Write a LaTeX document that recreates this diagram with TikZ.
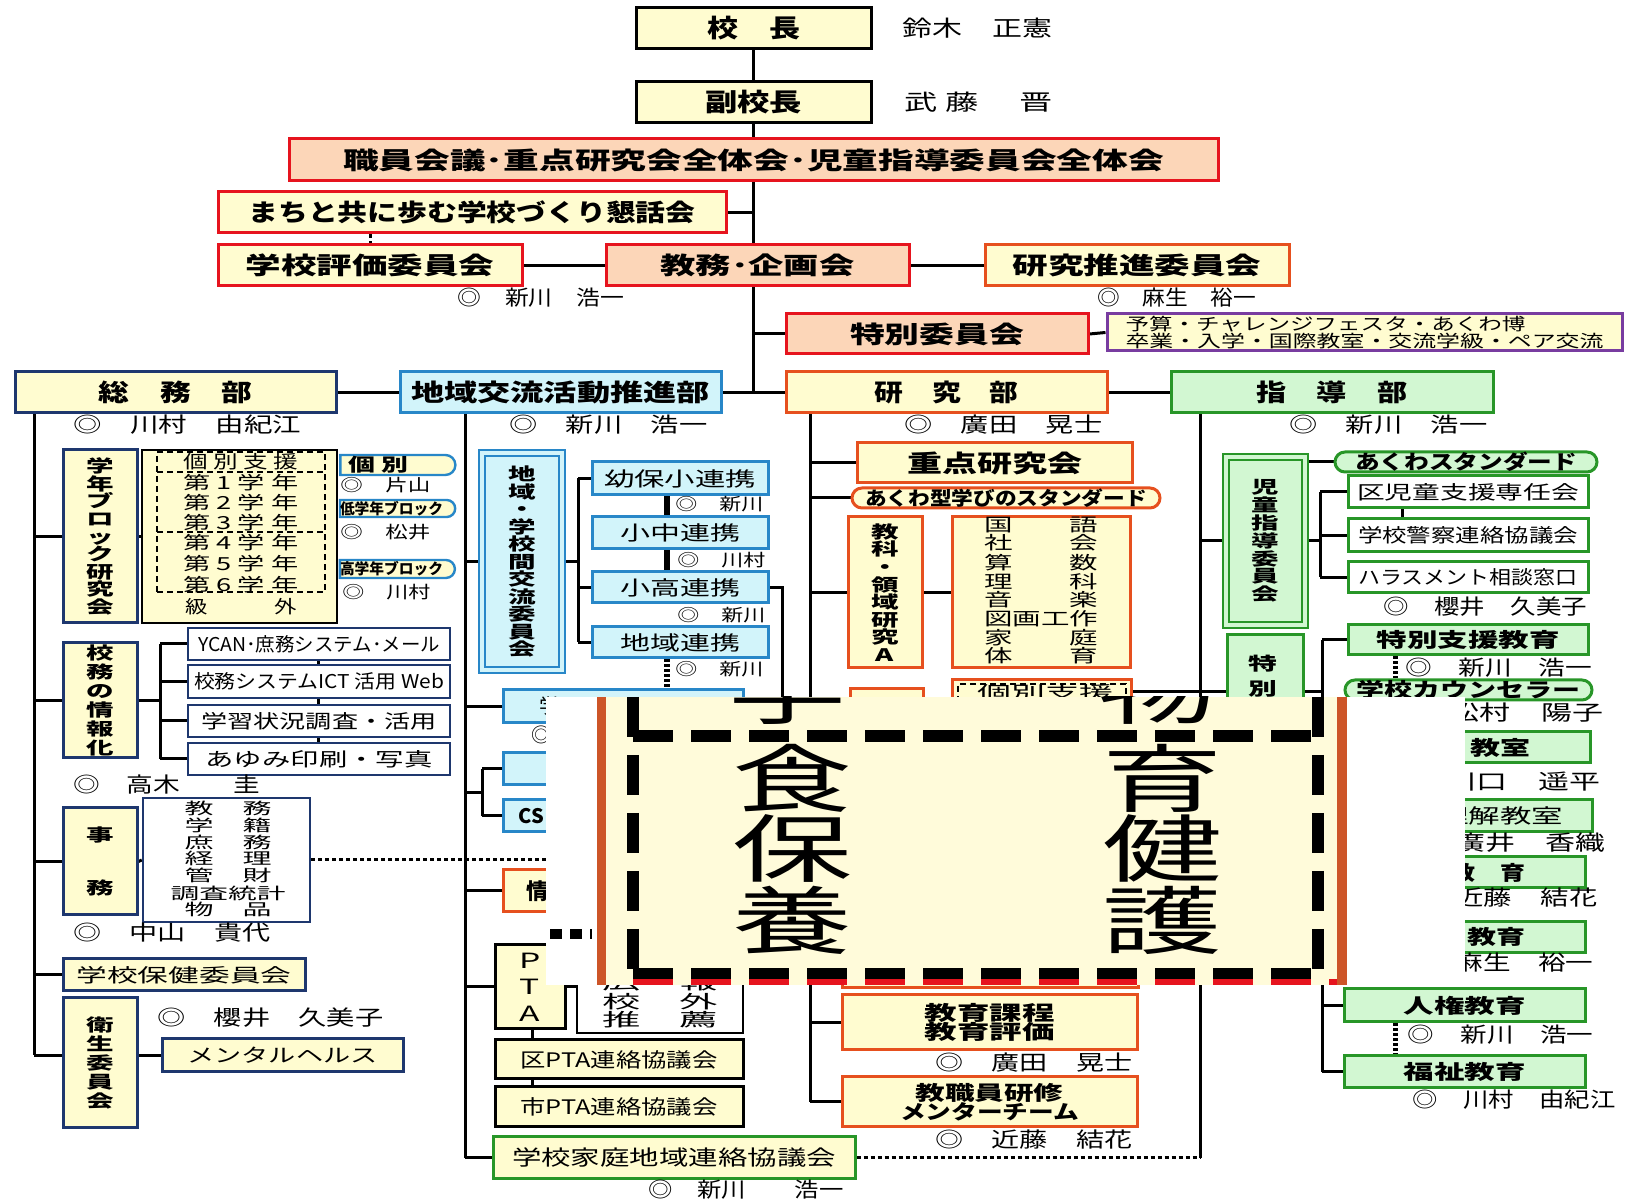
\documentclass[tikz,border=0pt]{standalone}
\usepackage{fontspec}
\usepackage{graphicx}
\setmainfont{Noto Sans CJK JP}
\newfontfamily\jpv{Noto Sans CJK JP}[FakeStretch=1.6]
\usetikzlibrary{shapes.misc}
\pgfdeclarelayer{bg}\pgfdeclarelayer{fg}\pgfsetlayers{bg,main,fg}
\newlength\px \setlength\px{0.5pt}
\newcommand\hw[2]{\resizebox{#1\px}{\height}{#2}}
\newcommand\fsz[1]{\fontsize{#1}{#1}\selectfont}
% \mkbox{style}{name}{x1}{y1}{x2}{y2}{text}
\newcommand\mkbox[7]{\node[#1, minimum width={(#5-#3)*0.5pt}, minimum height={(#6-#4)*0.5pt}] (#2) at ({(#3+#5)/2},{(#4+#6)/2}) {#7};}
\definecolor{ly}{RGB}{255,252,208}
\definecolor{peach}{RGB}{252,214,184}
\definecolor{redb}{RGB}{230,20,30}
\definecolor{orb}{RGB}{230,80,30}
\definecolor{navy}{RGB}{30,55,110}
\definecolor{blu}{RGB}{40,135,200}
\definecolor{cyf}{RGB}{210,244,250}
\definecolor{grn}{RGB}{40,150,40}
\definecolor{lgr}{RGB}{210,247,210}
\definecolor{purp}{RGB}{120,60,160}
\definecolor{rust}{RGB}{205,85,40}
\definecolor{cream}{RGB}{255,251,218}
\tikzset{
  bxB/.style={draw, line width=1.5pt, inner sep=0pt, align=center},
  bxY/.style={bxB, fill=ly, draw=black},
  bxR/.style={bxB, fill=ly, draw=redb},
  bxP/.style={bxB, fill=peach, draw=redb},
  bxO/.style={bxB, fill=ly, draw=orb},
  bxN/.style={bxB, fill=ly, draw=navy},
  bxNW/.style={bxB, fill=white, draw=navy, line width=1.2pt},
  bxC/.style={bxB, fill=cyf, draw=blu},
  bxG/.style={bxB, fill=lgr, draw=grn},
  bxGW/.style={bxB, fill=white, draw=grn},
  bxK/.style={bxB, fill=white, draw=black, line width=1pt},
  dshb/.style={draw, dash pattern=on 3pt off 2pt, line width=0.9pt, inner sep=0pt},
  ftT/.style={font={\fsz{12}\bfseries}},
  ftV/.style={font={\jpv\bfseries\fsz{8.6}\baselineskip=#1pt\lineskiplimit=-20pt}},
  tNm/.style={inner sep=0pt, anchor=west, font={\fsz{10.5}}},
  tNmS/.style={inner sep=0pt, anchor=west, font={\fsz{8.5}}},
  tG/.style={inner sep=0pt, font={\fsz{9}}},
  tG8/.style={inner sep=0pt, font={\fsz{8}}},
  bigc/.style={inner sep=0pt, font={\fsz{37}}},
  cn/.style={line width=1.5pt, black},
  dotc/.style={line width=1.5pt, dash pattern=on 2pt off 1.5pt},
  ovd/.style={line width=6pt, dash pattern=on 20pt off 9pt},
}
\begin{document}
\begin{tikzpicture}[x=0.5pt,y=-0.5pt]
\useasboundingbox (0,0) rectangle (1630,1202);
% ---------- top ----------
\mkbox{bxY,font={\fsz{12.5}\bfseries}}{kocho}{636}{8}{871}{49}{\hw{93}{校　長}}
\node[tNm,font=\fsz{11}] (nKocho) at (902,28) {\hw{150}{鈴木　正憲}};
\mkbox{bxY,font={\fsz{12.5}\bfseries}}{fuku}{636}{82}{871}{123}{\hw{97}{副校長}}
\node[tNm,font=\fsz{11}] (nFuku) at (904,102) {\hw{148}{武 藤　 晋}};
\mkbox{bxP,ftT}{shokuin}{289}{139}{1218}{181}{\hw{821}{職員会議･重点研究会全体会･児童指導委員会全体会}}
\mkbox{bxR,ftT}{machi}{218}{192}{726}{233}{\hw{447}{まちと共に歩む学校づくり懇話会}}
\mkbox{bxR,ftT}{hyoka}{218}{245}{522}{286}{\hw{249}{学校評価委員会}}
\mkbox{bxP,ftT}{kyomu}{606}{245}{909}{286}{\hw{194}{教務･企画会}}
\mkbox{bxO,ftT}{suishin}{985}{245}{1289}{286}{\hw{249}{研究推進委員会}}
\node[tNm] (nKyomu) at (457,298) {\hw{167}{◎　新川　浩一}};
\node[tNm] (nSuishin) at (1097,298) {\hw{159}{◎　麻生　裕一}};
\mkbox{bxP,ftT}{tokui}{786}{314}{1088}{354}{\hw{174}{特別委員会}}
\mkbox{bxY,draw=purp,align=left,font={\fsz{8.5}\lineskiplimit=-20pt}}{purple}{1107}{314}{1622}{351}{\hw{400}{予算・チャレンジフェスタ・あくわ博}\\\hw{478}{卒業・入学・国際教室・交流学級・ペア交流}}
% ---------- level 2 ----------
\mkbox{bxN,ftT}{somu}{15}{372}{336}{413}{\hw{154}{総　務　部}}
\mkbox{bxC,ftT}{chiiki}{400}{372}{721}{413}{\hw{299}{地域交流活動推進部}}
\mkbox{bxO,ftT}{kenkyu}{786}{372}{1107}{413}{\hw{144}{研　究　部}}
\mkbox{bxG,ftT}{shido}{1171}{372}{1493}{413}{\hw{151}{指　導　部}}
\node[tNm] (nSomu) at (73,425) {\hw{228}{◎　川村　由紀江}};
\node[tNm] (nChiiki) at (509,425) {\hw{198}{◎　新川　浩一}};
\node[tNm] (nKenkyu) at (904,425) {\hw{198}{◎　廣田　晃士}};
\node[tNm] (nShido) at (1289,425) {\hw{198}{◎　新川　浩一}};
% ---------- somu column ----------
\mkbox{bxN,ftV=8.8}{gakunen}{63}{450}{137}{623}{学\\年\\ブ\\ロ\\ッ\\ク\\研\\究\\会}
\mkbox{bxK,fill=ly}{grade}{142}{450}{337}{623}{}
\mkbox{dshb}{kb1}{157}{452}{325}{472}{}
\mkbox{dshb}{kb2}{157}{472}{325}{532}{}
\mkbox{dshb}{kb3}{157}{532}{325}{592}{}
\node[tG] (g0) at (241,462) {\hw{115}{個 別 支 援}};
\node[tG] (g1) at (241,483) {\hw{115}{第 1 学 年}};
\node[tG] (g2) at (241,503) {\hw{115}{第 2 学 年}};
\node[tG] (g3) at (241,523) {\hw{115}{第 3 学 年}};
\node[tG] (g4) at (241,543) {\hw{115}{第 4 学 年}};
\node[tG] (g5) at (241,564) {\hw{115}{第 5 学 年}};
\node[tG] (g6) at (241,585) {\hw{115}{第 6 学 年}};
\node[tG] (g7) at (241,607) {\hw{112}{級　　　外}};
\mkbox{bxY,draw=blu,line width=1.2pt,rounded rectangle,rounded rectangle west arc=none,font={\fsz{9}\bfseries}}{lKo}{338}{455}{453}{475}{\hw{60}{個 別}\hspace{34\px}}
\node[tNmS] (nKa) at (340,485) {\hw{90}{◎　片山}};
\mkbox{bxY,draw=blu,line width=1.2pt,rounded rectangle,rounded rectangle west arc=none,font={\fsz{7.5}\bfseries}}{lTei}{338}{500}{453}{517}{\hw{103}{低学年ブロック}\hspace{8\px}}
\node[tNmS] (nMa) at (340,532) {\hw{90}{◎　松井}};
\mkbox{bxY,draw=blu,line width=1.2pt,rounded rectangle,rounded rectangle west arc=none,font={\fsz{7.5}\bfseries}}{lKou}{338}{560}{453}{578}{\hw{103}{高学年ブロック}\hspace{8\px}}
\node[tNmS] (nKw) at (342,592) {\hw{88}{◎　川村}};
\mkbox{bxN,ftV=9.5}{joho}{63}{643}{137}{758}{校\\務\\の\\情\\報\\化}
\mkbox{bxNW,font=\fsz{9.5}}{ycan}{188}{628}{450}{660}{\hw{242}{YCAN･庶務システム･メール}}
\mkbox{bxNW,font=\fsz{9.5}}{ict}{188}{665}{450}{698}{\hw{250}{校務システムICT 活用 Web}}
\mkbox{bxNW,font=\fsz{9.5}}{gakushu}{188}{705}{450}{737}{\hw{235}{学習状況調査・活用}}
\mkbox{bxNW,font=\fsz{9.5}}{ayumi}{188}{743}{450}{775}{\hw{227}{あゆみ印刷・写真}}
\node[tNm] (nTa) at (73,785) {\hw{187}{◎　高木　　圭}};
\mkbox{bxN,ftV=26.5}{jimu}{63}{808}{137}{915}{事\\務}
\mkbox{bxNW}{jimuL}{143}{798}{310}{922}{}
\node[tG8] (j1) at (228,808) {\hw{87}{教　務}};
\node[tG8] (j2) at (228,825) {\hw{87}{学　籍}};
\node[tG8] (j3) at (228,842) {\hw{87}{庶　務}};
\node[tG8] (j4) at (228,858) {\hw{87}{経　理}};
\node[tG8] (j5) at (228,875) {\hw{87}{管　財}};
\node[tG8] (j6) at (228,893) {\hw{115}{調査統計}};
\node[tG8] (j7) at (228,909) {\hw{87}{物　品}};
\node[tNm] (nNa) at (73,933) {\hw{197}{◎　中山　貴代}};
\mkbox{bxN,font=\fsz{9.5}}{hoken}{63}{959}{305}{991}{\hw{215}{学校保健委員会}}
\mkbox{bxN,ftV=9.4}{eisei}{63}{998}{137}{1128}{衛\\生\\委\\員\\会}
\node[tNm] (nSa) at (157,1018) {\hw{226}{◎　櫻井　久美子}};
\mkbox{bxN,font=\fsz{9.5}}{mental}{162}{1039}{403}{1072}{\hw{190}{メンタルヘルス}}
\coordinate (jimuDot) at (560,860);
% ---------- chiiki column ----------
\mkbox{bxC,double=cyf,double distance=2pt,line width=1.1pt,ftV=8.75}{koryu}{482}{453}{562}{670}{地\\域\\・\\学\\校\\間\\交\\流\\委\\員\\会}
\mkbox{bxC,font=\fsz{10}}{youho}{592}{462}{768}{495}{\hw{152}{幼保小連携}}
\mkbox{bxC,font=\fsz{10}}{shochu}{592}{517}{768}{549}{\hw{120}{小中連携}}
\mkbox{bxC,font=\fsz{10}}{kodaka}{592}{572}{768}{603}{\hw{120}{小高連携}}
\mkbox{bxC,font=\fsz{10}}{chiikiR}{592}{627}{768}{658}{\hw{120}{地域連携}}
\node[tNmS] (nY) at (675,504) {\hw{88}{◎　新川}};
\node[tNmS] (nS) at (677,560) {\hw{88}{◎　川村}};
\node[tNmS] (nK) at (677,615) {\hw{88}{◎　新川}};
\node[tNmS] (nC) at (675,669) {\hw{88}{◎　新川}};
\mkbox{bxC}{cyanA}{503}{690}{743}{723}{}
\node[inner sep=0pt,font=\fsz{10}] (cyAt) at (549,706) {学};
\node[inner sep=0pt,font=\fsz{10}] (cyAn) at (541,735) {◎};
\mkbox{bxC}{cyanB}{503}{753}{743}{785}{}
\mkbox{bxC}{cyanC}{503}{800}{743}{832}{}
\node[inner sep=0pt,anchor=west,font={\fsz{10}\bfseries}] (cyCt) at (518,816) {CS};
\mkbox{bxO}{jyoO}{503}{870}{743}{912}{}
\node[inner sep=0pt,font={\fsz{11}\bfseries}] (jyoT) at (537,891) {情};
\mkbox{bxY,font={\jpv\fsz{10.5}\baselineskip=13.3pt\lineskiplimit=-20pt}}{pta}{495}{945}{565}{1029}{P\\T\\A}
\mkbox{bxK}{ptaL}{577}{930}{743}{1033}{}
\node[tG] (p1) at (660,983) {\hw{115}{広　報}};
\node[tG] (p2) at (660,1002) {\hw{115}{校　外}};
\node[tG] (p3) at (660,1020) {\hw{115}{推　薦}};
\mkbox{bxY,font=\fsz{10}}{kuPTA}{495}{1040}{743}{1079}{\hw{197}{区PTA連絡協議会}}
\mkbox{bxY,font=\fsz{10}}{shiPTA}{495}{1087}{743}{1127}{\hw{197}{市PTA連絡協議会}}
\mkbox{bxY,draw=grn,font=\fsz{10.5}}{renraku}{493}{1137}{855}{1179}{\hw{324}{学校家庭地域連絡協議会}}
\node[tNm] (nRe) at (648,1190) {\hw{195}{◎　新川　　浩一}};
% ---------- kenkyu column ----------
\mkbox{bxO,ftT}{juten}{857}{443}{1132}{483}{\hw{175}{重点研究会}}
\mkbox{bxO,rounded rectangle,font={\fsz{9.5}\bfseries}}{akuwagata}{852}{488}{1160}{508}{\hw{282}{あくわ型学びのスタンダード}}
\mkbox{bxO,ftV=8.8}{kyoka}{848}{517}{922}{668}{教\\科\\・\\領\\域\\研\\究\\A}
\mkbox{bxO}{subj}{952}{517}{1130}{668}{}
\node[tG] (s1) at (1041,525) {\hw{114}{国　　語}};
\node[tG] (s2) at (1041,543) {\hw{114}{社　　会}};
\node[tG] (s3) at (1041,563) {\hw{114}{算　　数}};
\node[tG] (s4) at (1041,582) {\hw{114}{理　　科}};
\node[tG] (s5) at (1041,600) {\hw{114}{音　　楽}};
\node[tG] (s6) at (1041,619) {\hw{114}{図画工作}};
\node[tG] (s7) at (1041,638) {\hw{114}{家　　庭}};
\node[tG] (s8) at (1041,656) {\hw{114}{体　　育}};
\mkbox{bxO}{yoBox}{850}{689}{923}{800}{}
\mkbox{bxO}{hidK}{952}{680}{1131}{800}{}
\mkbox{dshb}{hidKd}{958}{684}{1126}{706}{}
\node[tG] (hidKt) at (1045,693) {\hw{136}{個別支援}};
\mkbox{bxO}{hidB}{842}{880}{1138}{988}{}
\mkbox{bxO,font={\fsz{10}\bfseries\baselineskip=9.5pt\lineskiplimit=-20pt}}{katei}{842}{995}{1137}{1050}{\hw{130}{教育課程}\\\hw{130}{教育評価}}
\node[tNm] (nHi2) at (935,1063) {\hw{197}{◎　廣田　晃士}};
\mkbox{bxO,font={\fsz{10}\bfseries\baselineskip=9.5pt\lineskiplimit=-20pt}}{kenshu}{842}{1077}{1137}{1127}{\hw{148}{教職員研修}\\\hw{179}{メンターチーム}}
\node[tNm] (nKo2) at (935,1140) {\hw{197}{◎　近藤　結花}};
% ---------- shido column ----------
\mkbox{bxG,double=lgr,double distance=2pt,line width=1.1pt,ftV=8.9}{jido}{1226}{457}{1305}{625}{児\\童\\指\\導\\委\\員\\会}
\mkbox{bxG,rounded rectangle,font={\fsz{10}\bfseries}}{akuwaSt}{1335}{452}{1597}{472}{\hw{222}{あくわスタンダード}}
\mkbox{bxGW,font=\fsz{9.5}}{kuJido}{1348}{476}{1588}{508}{\hw{222}{区児童支援専任会}}
\mkbox{bxGW,font=\fsz{9.5}}{keisatsu}{1348}{519}{1588}{552}{\hw{220}{学校警察連絡協議会}}
\mkbox{bxGW,font=\fsz{9.5}}{harass}{1348}{562}{1588}{593}{\hw{219}{ハラスメント相談窓口}}
\node[tNm] (nSa2) at (1383,607) {\hw{204}{◎　櫻井　久美子}};
\mkbox{bxG}{tok2}{1227}{635}{1303}{900}{}
\node[inner sep=0pt,align=center,font={\jpv\bfseries\fsz{9}\baselineskip=12.5pt\lineskiplimit=-20pt}] (tok2t) at (1263,676) {特\\別};
\mkbox{bxG,font={\fsz{10}\bfseries}}{tokushien}{1348}{625}{1588}{655}{\hw{183}{特別支援教育}}
\node[tNm] (nSh3) at (1405,668) {\hw{187}{◎　新川　浩一}};
\mkbox{bxG,rounded rectangle,font={\fsz{10}\bfseries}}{counsel}{1345}{680}{1592}{700}{\hw{224}{学校カウンセラー}}
\node[tNm] (nMat) at (1448,713) {\hw{155}{松村　陽子}};
\mkbox{bxG}{rA}{1348}{732}{1590}{763}{}
\node[inner sep=0pt,anchor=west,font={\fsz{10}\bfseries}] (rAt) at (1470,748) {\hw{60}{教室}};
\node[tNm] (nKaw) at (1445,782) {\hw{155}{川口　遥平}};
\mkbox{bxG}{rB}{1348}{800}{1592}{832}{}
\node[inner sep=0pt,anchor=west,font={\fsz{10}}] (rBt) at (1437,816) {\hw{126}{理解教室}};
\node[tNm] (nHir) at (1455,843) {\hw{150}{廣井　香織}};
\mkbox{bxG}{rC}{1348}{857}{1585}{888}{}
\node[inner sep=0pt,anchor=west,font={\fsz{10}\bfseries}] (rCt) at (1450,873) {\hw{75}{教　育}};
\node[tNm] (nKon) at (1455,898) {\hw{142}{近藤　結花}};
\mkbox{bxG}{rD}{1348}{922}{1585}{953}{}
\node[inner sep=0pt,anchor=west,font={\fsz{10}\bfseries}] (rDt) at (1467,937) {\hw{58}{教育}};
\node[tNm] (nAso) at (1455,963) {\hw{138}{麻生　裕一}};
\mkbox{bxG,font={\fsz{10}\bfseries}}{jinken}{1344}{989}{1585}{1022}{\hw{122}{人権教育}}
\node[tNm] (nSh4) at (1407,1035) {\hw{186}{◎　新川　浩一}};
\mkbox{bxG,font={\fsz{10}\bfseries}}{fukushi}{1344}{1056}{1585}{1088}{\hw{122}{福祉教育}}
\node[tNm] (nKaw2) at (1412,1100) {\hw{203}{◎　川村　由紀江}};
% ---------- coordinates ----------
\coordinate (sX) at (34,413);
\coordinate (jbX) at (160,700);
\coordinate (ylX) at (318,0);
\coordinate (cX) at (465,413);
\coordinate (cbX) at (482,793);
\coordinate (kbX) at (578,0);
\coordinate (lkX) at (667,0);
\coordinate (kdX) at (782,900);
\coordinate (pX) at (532,0);
\coordinate (kX) at (810,413);
\coordinate (tkY) at (0,692);
\coordinate (shX) at (1200,413);
\coordinate (jbr) at (1320,0);
\coordinate (kjX) at (1402,0);
\coordinate (tbr) at (1322,0);
\coordinate (dmX) at (1395,0);
% ---------- connectors ----------
\begin{pgfonlayer}{bg}
\fill[white] (0,0) rectangle (1630,1202);
\draw[cn] (kocho.south) -- (kocho.south |- kenkyu.west);
\draw[cn] (somu.east) -- (shido.west);
\draw[cn] (machi.east) -- (machi.east -| kocho.south);
\draw[dotc] (hyoka.north |- machi.south) -- (hyoka.north);
\draw[cn] (hyoka.east) -- (kyomu.west);
\draw[cn] (kyomu.east) -- (suishin.west);
\draw[cn] (tokui.west -| kocho.south) -- (tokui.west);
\draw[cn] (tokui.east) -- (purple.west);
% somu
\draw[cn] (sX) -- (mental.west -| sX);
\foreach \n in {gakunen,joho,jimu,hoken,mental} \draw[cn] (\n.west -| sX) -- (\n.west);
\draw[cn] (gakunen.east) -- (grade.west);
\draw[cn] (jimu.east) -- (jimuL.west);
\draw[cn] (joho.east) -- (joho.east -| jbX);
\draw[cn] (ycan.west -| jbX) -- (ayumi.west -| jbX);
\foreach \n in {ycan,ict,gakushu,ayumi} \draw[cn] (\n.west -| jbX) -- (\n.west);
\draw[cn] (ycan.south -| ylX) -- (ict.north -| ylX);
\draw[cn] (ict.south -| ylX) -- (gakushu.north -| ylX);
\draw[cn] (gakushu.south -| ylX) -- (ayumi.north -| ylX);
\draw[dotc] (jimuL.east) -- (jimuDot);
% chiiki
\draw[cn] (cX) -- (renraku.west -| cX);
\foreach \n in {koryu,cyanA,jyoO,pta,renraku} \draw[cn] (\n.west -| cX) -- (\n.west);
\draw[cn] (cbX -| cX) -- (cbX);
\draw[cn] (cyanB.west -| cbX) -- (cyanC.west -| cbX);
\foreach \n in {cyanB,cyanC} \draw[cn] (\n.west -| cbX) -- (\n.west);
\draw[cn] (koryu.east) -- (koryu.east -| kbX);
\draw[cn] (youho.west -| kbX) -- (chiikiR.west -| kbX);
\foreach \n in {youho,kodaka,chiikiR} \draw[cn] (\n.west -| kbX) -- (\n.west);
\draw[line width=3pt] (youho.south -| lkX) -- (shochu.north -| lkX);
\draw[line width=3pt] (shochu.south -| lkX) -- (kodaka.north -| lkX);
\draw[line width=3pt, dash pattern=on 1.5pt off 1pt] (chiikiR.south -| lkX) -- (cyanA.north -| lkX);
\draw[cn] (kodaka.east) -- (kodaka.east -| kdX) -- (kdX);
\draw[cn] (pta.east) -- (pta.east -| ptaL.west);
\draw[cn] (pta.south -| pX) -- (kuPTA.north -| pX);
\draw[cn] (kuPTA.south -| pX) -- (shiPTA.north -| pX);
\draw[dotc] (renraku.east) -- (renraku.east -| shX);
% kenkyu
\draw[cn] (kX) -- (kenshu.west -| kX);
\foreach \n in {juten,akuwagata,kyoka,yoBox,katei,kenshu} \draw[cn] (\n.west -| kX) -- (\n.west);
\draw[cn] (kyoka.east) -- (subj.west);
\draw[cn] (hidK.east |- tkY) -- (tok2.west |- tkY);
% shido
\draw[cn] (shX) -- (renraku.east -| shX);
\draw[cn] (jido.west -| shX) -- (jido.west);
\draw[cn] (jido.east |- akuwaSt.west) -- (akuwaSt.west);
\draw[cn] (jido.east) -- (jido.east -| jbr);
\draw[cn] (kuJido.west -| jbr) -- (harass.west -| jbr);
\foreach \n in {kuJido,keisatsu,harass} \draw[cn] (\n.west -| jbr) -- (\n.west);
\draw[cn] (kuJido.south -| kjX) -- (keisatsu.north -| kjX);
\draw[cn] (tok2.east |- tkY) -- (tbr |- tkY);
\draw[cn] (tokushien.west -| tbr) -- (fukushi.west -| tbr);
\foreach \n in {tokushien,rA,rB,rC,rD,jinken,fukushi} \draw[cn] (\n.west -| tbr) -- (\n.west);
\draw[line width=2.5pt, dash pattern=on 1.5pt off 1pt] (tokushien.south -| dmX) -- (counsel.north -| dmX);
\draw[line width=2.5pt, dash pattern=on 1.5pt off 1pt] (jinken.south -| dmX) -- (fukushi.north -| dmX);
\end{pgfonlayer}
% ---------- overlay (enlarged inset) ----------
\begin{pgfonlayer}{fg}
\fill[white] (546,697) rectangle (1465,985);
\fill[cream] (606,697) rectangle (1337,985);
\fill[rust] (597,697) rectangle (606,985);
\fill[rust] (1337,697) rectangle (1347,985);
\begin{scope}
\clip (606,697) rectangle (1337,985);
\node[bigc] (ovA) at (787,690) {\hw{120}{学}};
\node[bigc] (ovB) at (1157,690) {\hw{120}{物}};
\node[bigc] (ov1) at (792,778) {\hw{120}{食}};
\node[bigc] (ov2) at (792,848) {\hw{120}{保}};
\node[bigc] (ov3) at (792,920) {\hw{120}{養}};
\node[bigc] (ov4) at (1162,778) {\hw{120}{育}};
\node[bigc] (ov5) at (1162,848) {\hw{120}{健}};
\node[bigc] (ov6) at (1162,920) {\hw{120}{護}};
\draw[ovd] (633,697) -- (633,976);
\draw[ovd] (1318,697) -- (1318,976);
\draw[ovd] (633,736) -- (1318,736);
\draw[ovd] (633,974) -- (1318,974);
\draw[redb, line width=4pt, dash pattern=on 20pt off 9pt] (633,983) -- (1337,983);
\end{scope}
\draw[line width=5pt, dash pattern=on 6pt off 4pt] (550,934) -- (592,934);
\end{pgfonlayer}
\end{tikzpicture}
\end{document}
